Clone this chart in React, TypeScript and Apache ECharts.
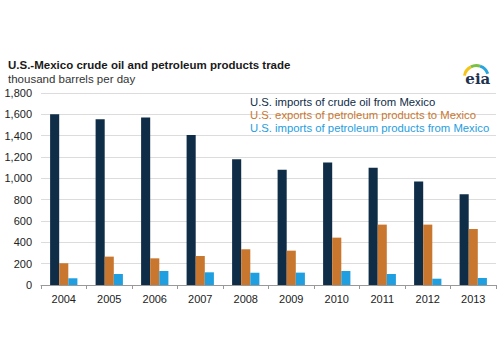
import React, { useEffect, useRef } from "react";
import * as echarts from "echarts";

const years = ["2004", "2005", "2006", "2007", "2008", "2009", "2010", "2011", "2012", "2013"];
const crudeImports = [1600, 1555, 1570, 1407, 1180, 1080, 1148, 1100, 970, 851];
const productExports = [203, 266, 250, 272, 335, 322, 444, 566, 566, 525];
const productImports = [63, 103, 131, 119, 116, 116, 131, 103, 59, 66];
const seriesNames = [
  "U.S. imports of crude oil from Mexico",
  "U.S. exports of petroleum products to Mexico",
  "U.S. imports of petroleum products from Mexico",
];
const colors = ["#0f2d47", "#c9772f", "#1f9ee0"];

export default function App() {
  const ref = useRef<HTMLDivElement>(null);
  useEffect(() => {
    if (!ref.current) return;
    const chart = echarts.init(ref.current, null, { renderer: "svg" });
    const font = "Arial, 'Liberation Sans', sans-serif";
    const data = [crudeImports, productExports, productImports];
    chart.setOption({
      animation: false,
      textStyle: { fontFamily: font },
      title: {
        text: "U.S.-Mexico crude oil and petroleum products trade",
        subtext: "thousand barrels per day",
        left: 3,
        top: 54,
        itemGap: 2,
        textStyle: { fontSize: 11.5, fontWeight: "bold", color: "#1a1a1a", fontFamily: font },
        subtextStyle: { fontSize: 11.5, color: "#333", fontFamily: font },
      },
      legend: {
        orient: "vertical",
        left: 245,
        top: 95,
        padding: 0,
        itemGap: 0,
        itemWidth: 0,
        itemHeight: 0,
        selectedMode: false,
        data: seriesNames.map((n, i) => ({
          name: n,
          icon: "none",
          textStyle: { color: colors[i], fontSize: 11.3, lineHeight: 13, fontFamily: font },
        })),
        textStyle: { fontSize: 11.3, lineHeight: 13 },
      },
      graphic: [
        {
          type: "group",
          left: 462,
          top: 63,
          children: [
            { type: "arc", shape: { cx: 14, cy: 14, r: 12, startAngle: Math.PI * 1.05, endAngle: Math.PI * 1.35 }, style: { stroke: "#f4c419", lineWidth: 3, fill: "none" } },
            { type: "arc", shape: { cx: 14, cy: 14, r: 12, startAngle: Math.PI * 1.35, endAngle: Math.PI * 1.6 }, style: { stroke: "#7ac143", lineWidth: 3, fill: "none" } },
            { type: "arc", shape: { cx: 14, cy: 14, r: 12, startAngle: Math.PI * 1.6, endAngle: Math.PI * 1.9 }, style: { stroke: "#2aa4dd", lineWidth: 3, fill: "none" } },
            { type: "text", x: 3, y: 8, style: { text: "eia", fontSize: 15, fontFamily: "'DejaVu Serif', serif", fontWeight: "bold", fill: "#1e3250" } },
          ],
        },
      ],
      grid: { left: 41, right: 4, top: 93, bottom: 78, containLabel: false },
      xAxis: {
        type: "category",
        data: years,
        axisLine: { lineStyle: { color: "#999", width: 1 } },
        axisTick: { show: true, alignWithLabel: false, length: 4, lineStyle: { color: "#999" } },
        axisLabel: { color: "#222", fontSize: 11, margin: 8, fontFamily: font },
      },
      yAxis: {
        type: "value",
        min: 0,
        max: 1800,
        interval: 200,
        axisLine: { show: false },
        axisTick: { show: false },
        splitLine: { lineStyle: { color: "#dcdcdc", width: 1 } },
        axisLabel: {
          color: "#222",
          fontSize: 11,
          margin: 9,
          fontFamily: font,
          formatter: (v: number) => v.toLocaleString("en-US"),
        },
      },
      series: seriesNames.map((n, i) => ({
        name: n,
        type: "bar",
        data: data[i],
        barGap: "0%",
        barCategoryGap: "40%",
        itemStyle: { color: colors[i] },
      })),
    });
    return () => chart.dispose();
  }, []);
  return <div ref={ref} style={{ width: 500, height: 363, position: "absolute", left: 0, top: 0, background: "#fff" }} />;
}
